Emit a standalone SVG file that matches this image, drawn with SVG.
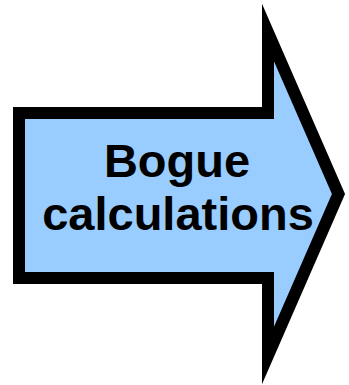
<svg xmlns="http://www.w3.org/2000/svg" width="349" height="385" viewBox="0 0 349 385">
<style>
.arrow{fill:#99ccff;stroke:#000;stroke-width:12;stroke-linejoin:miter;stroke-miterlimit:10}
.lbl{font-family:"Liberation Sans",Arial,sans-serif;font-weight:bold;font-size:47px;fill:#000;text-anchor:middle}
</style>
<rect width="349" height="385" fill="#fff"/>
<g id="arrow">
<polygon class="arrow" points="19,113 268,113 268,32.5 338.5,194 268,355.5 268,278 19,278"/>
<text class="lbl" x="177" y="177">Bogue</text>
<text class="lbl" x="178" y="230">calculations</text>
</g>
</svg>
